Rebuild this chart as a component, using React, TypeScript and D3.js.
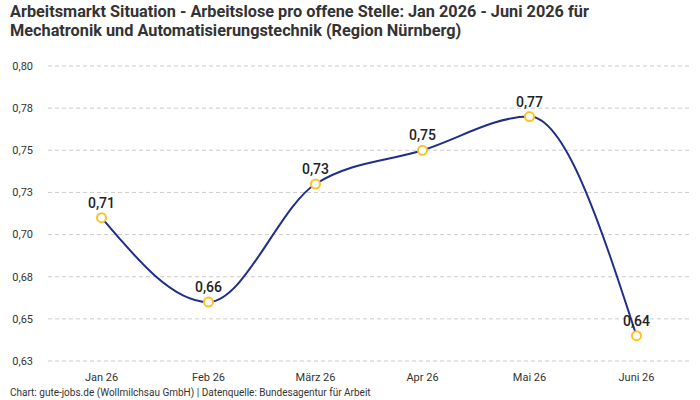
import React, { useEffect, useRef } from 'react';
import * as d3 from 'd3';

const months = ['Jan 26', 'Feb 26', 'März 26', 'Apr 26', 'Mai 26', 'Juni 26'];
const ratios = [0.71, 0.66, 0.73, 0.75, 0.77, 0.64];
const yTicks = [0.625, 0.65, 0.675, 0.7, 0.725, 0.75, 0.775, 0.8];
const titleLines = [
  'Arbeitsmarkt Situation - Arbeitslose pro offene Stelle: Jan 2026 - Juni 2026 für',
  'Mechatronik und Automatisierungstechnik (Region Nürnberg)',
];
const footer = 'Chart: gute-jobs.de (Wollmilchsau GmbH) | Datenquelle: Bundesagentur für Arbeit';

const W = 700;
const H = 400;
const FONT = 'Roboto, "Noto Sans", sans-serif';

// round half up, German decimal comma
function fmt(v: number) {
  return (Math.round(v * 100 + 1e-6) / 100).toFixed(2).replace('.', ',');
}

export default function App() {
  const svgRef = useRef<SVGSVGElement>(null);

  useEffect(() => {
    const svg = d3.select(svgRef.current);
    svg.selectAll('*').remove();

    const left = 48, right = 690, top = 66, bottom = 361;

    const x = d3.scalePoint<string>().domain(months).range([left, right]).padding(0.5);
    const y = d3.scaleLinear().domain([0.625, 0.8]).range([bottom, top]);

    svg.append('rect').attr('width', W).attr('height', H).attr('fill', '#fff');

    // title
    svg.append('g')
      .selectAll('text')
      .data(titleLines)
      .enter()
      .append('text')
      .attr('x', 10)
      .attr('y', 17 + 0)
      .attr('dy', (_, i) => i * 19)
      .attr('font-family', FONT)
      .attr('font-weight', 700)
      .attr('font-size', 16.3)
      .attr('fill', '#333')
      .text(d => d);

    // grid + y labels
    const grid = svg.append('g');
    grid.selectAll('line')
      .data(yTicks)
      .enter()
      .append('line')
      .attr('x1', left)
      .attr('x2', right)
      .attr('y1', d => y(d))
      .attr('y2', d => y(d))
      .attr('stroke', '#ccc')
      .attr('stroke-dasharray', '4,3');
    grid.selectAll('text')
      .data(yTicks)
      .enter()
      .append('text')
      .attr('x', 33)
      .attr('y', d => y(d))
      .attr('dy', '0.35em')
      .attr('text-anchor', 'end')
      .attr('font-family', FONT)
      .attr('font-size', 11)
      .attr('fill', '#333')
      .text(d => fmt(d));

    // x labels
    svg.append('g')
      .selectAll('text')
      .data(months)
      .enter()
      .append('text')
      .attr('x', d => x(d)!)
      .attr('y', 381)
      .attr('text-anchor', 'middle')
      .attr('font-family', FONT)
      .attr('font-size', 11)
      .attr('fill', '#333')
      .text(d => d);

    // line
    const line = d3.line<number>()
      .x((_, i) => x(months[i])!)
      .y(d => y(d))
      .curve(d3.curveMonotoneX);

    svg.append('path')
      .datum(ratios)
      .attr('d', line)
      .attr('fill', 'none')
      .attr('stroke', '#1f2d8c')
      .attr('stroke-width', 2);

    // value labels
    svg.append('g')
      .selectAll('text')
      .data(ratios)
      .enter()
      .append('text')
      .attr('x', (_, i) => x(months[i])!)
      .attr('y', d => y(d) - 10)
      .attr('text-anchor', 'middle')
      .attr('font-family', FONT)
      .attr('font-weight', 500)
      .attr('font-size', 14)
      .attr('fill', '#222')
      .text(d => fmt(d));

    // markers
    svg.append('g')
      .selectAll('circle')
      .data(ratios)
      .enter()
      .append('circle')
      .attr('cx', (_, i) => x(months[i])!)
      .attr('cy', d => y(d))
      .attr('r', 4.5)
      .attr('fill', '#fff')
      .attr('stroke', '#fdc324')
      .attr('stroke-width', 2);

    svg.append('text')
      .attr('x', 10)
      .attr('y', 396)
      .attr('font-family', FONT)
      .attr('font-size', 10)
      .attr('fill', '#333')
      .text(footer);
  }, []);

  return (
    <svg
      ref={svgRef}
      width={W}
      height={H}
      style={{ display: 'block', position: 'absolute', left: 0, top: 0 }}
    />
  );
}
